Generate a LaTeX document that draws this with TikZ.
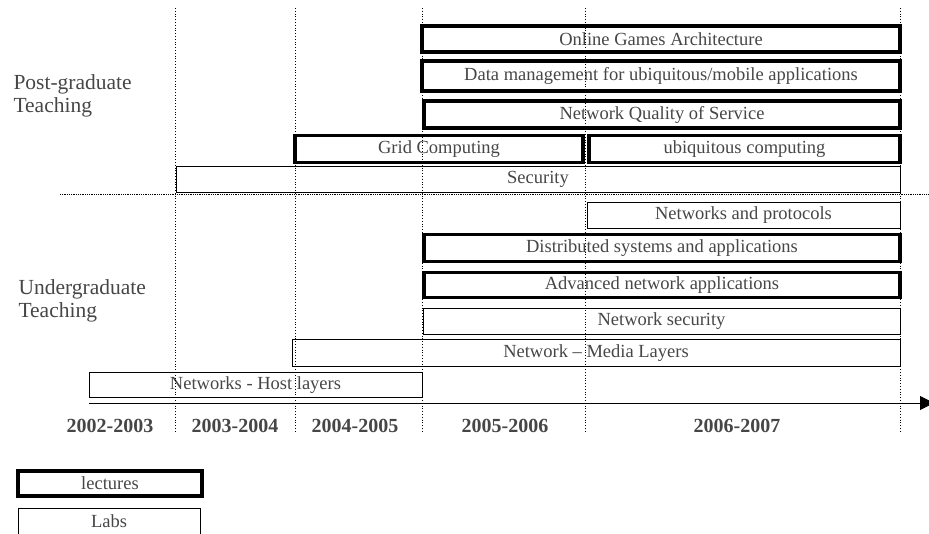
\documentclass[tikz,border=0pt]{standalone}
\usepackage{fontspec}
\setmainfont{Liberation Serif}
\usepackage{tikz}
\usetikzlibrary{arrows.meta}
\definecolor{txtgray}{RGB}{70,70,70}

\begin{document}
\begin{tikzpicture}[x=1pt, y=-1pt,
    course/.style={draw=black, text=txtgray, inner sep=0pt, anchor=center,
      font=\fontsize{18.5}{20}\selectfont},
    lecture/.style={course, line width=3.6pt},
    lab/.style={course, line width=0.8pt},
    side/.style={align=left, anchor=west, text=txtgray,
      font=\fontsize{21.5}{23.5}\selectfont},
    year/.style={text=txtgray, font=\fontsize{20}{22}\selectfont\bfseries}]
  \useasboundingbox (0,0) rectangle (929,533);
  % post-graduate courses
  \node[lecture, minimum width=478, minimum height=26] (games) at (661,39) {Online Games Architecture};
  \node[lecture, minimum width=478, minimum height=30] (datamgmt) at (661,76) {Data management for ubiquitous/mobile applications};
  \node[lecture, minimum width=476, minimum height=27] (qos) at (662,114.5) {Network Quality of Service};
  \node[lecture, minimum width=288, minimum height=27] (grid) at (439,149) {Grid Computing};
  \node[lecture, minimum width=311, minimum height=27] (ubicomp) at (744.5,149) {ubiquitous computing};
  \node[lab, minimum width=724, minimum height=26] (security) at (538,179.5) {Security};
  % undergraduate courses
  \node[lab, minimum width=313, minimum height=26] (netproto) at (743.5,215.5) {Networks and protocols};
  \node[lecture, minimum width=476, minimum height=27] (distsys) at (662,248) {Distributed systems and applications};
  \node[lecture, minimum width=476, minimum height=25] (advnet) at (662,285) {Advanced network applications};
  \node[lab, minimum width=477, minimum height=26] (netsec) at (661.5,321.5) {Network security};
  \node[lab, minimum width=608, minimum height=27] (media) at (596,353) {Network -- Media Layers};
  \node[lab, minimum width=333, minimum height=25] (host) at (255.5,385) {Networks - Host layers};
  % side labels
  \node[side] (postgrad) at (10,96) {Post-graduate\\Teaching};
  \node[side] (undergrad) at (15,301) {Undergraduate\\Teaching};
  % time axis
  \coordinate (axisstart) at (89,403);
  \coordinate (axisend) at (934,403);
  \draw[line width=0.8pt, -{Triangle[length=14pt, width=14pt]}] (axisstart) -- (axisend);
  \foreach \x/\yr in {110/2002-2003, 235/2003-2004, 355/2004-2005, 505/2005-2006, 737/2006-2007}
    \node[year] (y\x) at (\x,426) {\yr};
  % year separators
  \foreach \x in {175, 295, 422, 585, 900}
    \draw[dotted, line width=0.8pt] (\x,8) -- (\x,433);
  \draw[densely dotted, line width=0.8pt] (60,194) -- (929,194);
  % legend
  \node[lecture, minimum width=184, minimum height=25] (lectures) at (110,483.5) {lectures};
  \node[lab, minimum width=182, minimum height=26] (labs) at (109,521) {Labs};
\end{tikzpicture}
\end{document}
